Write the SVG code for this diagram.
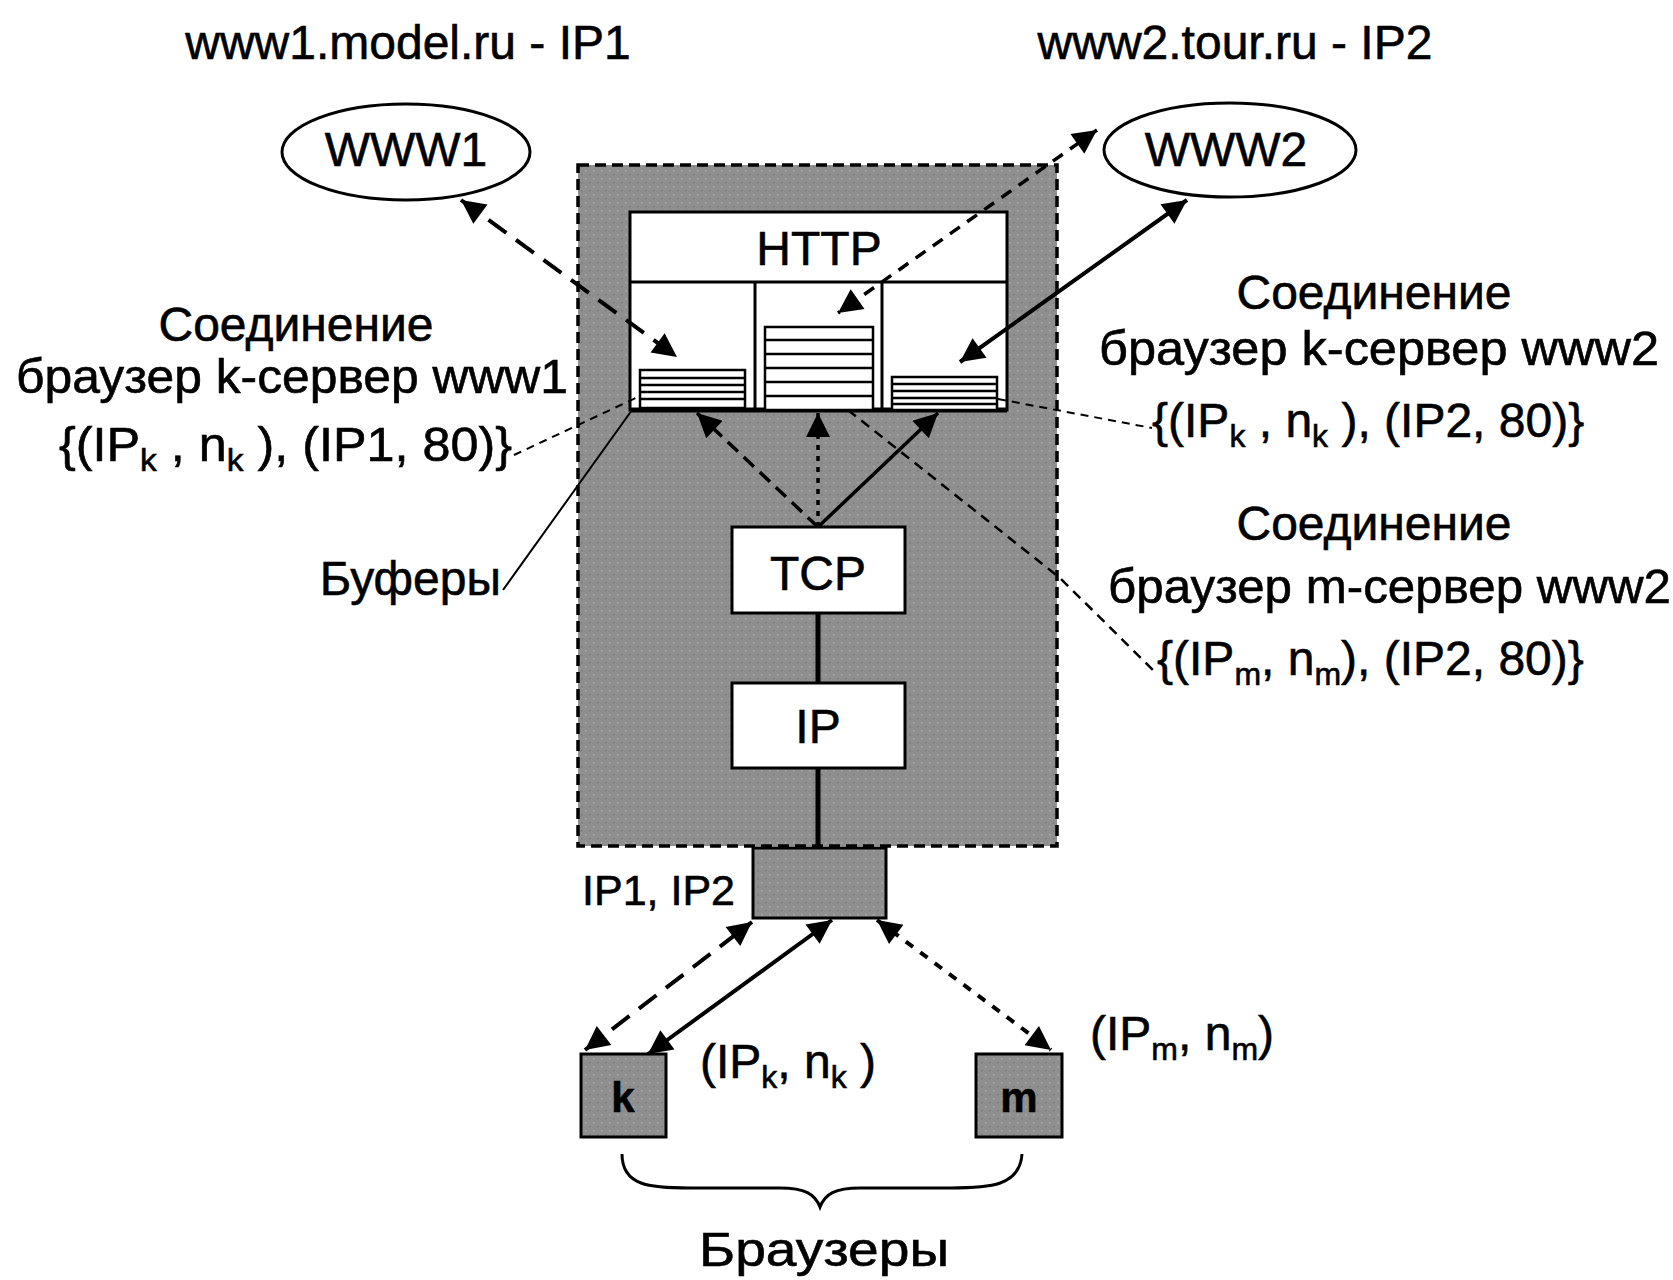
<svg xmlns="http://www.w3.org/2000/svg" width="1673" height="1280" viewBox="0 0 1673 1280">
<defs>
<marker id="ah" viewBox="0 0 10 10" refX="10" refY="5" markerWidth="34" markerHeight="24" markerUnits="userSpaceOnUse" orient="auto-start-reverse">
<path d="M0,0 L10,5 L0,10 z" fill="#000"/>
</marker>
<pattern id="tex" width="8" height="8" patternUnits="userSpaceOnUse">
<rect width="8" height="8" fill="#8f8f8f"/>
<rect x="1" y="2" width="1.5" height="1.5" fill="#ababab"/>
<rect x="5" y="6" width="1.5" height="1.5" fill="#7a7a7a"/>
</pattern>
</defs>
<style>
text{font-family:"Liberation Sans",Arial,sans-serif;fill:#000;font-size:48px;stroke:#000;stroke-width:0.6}
.mid{text-anchor:middle}
.end{text-anchor:end}
.sub{font-size:32px}
.sm{font-size:43px}
.bold{font-size:42px;font-weight:bold}
.box{fill:#fff;stroke:#000;stroke-width:3}
.gbox{fill:url(#tex);stroke:#000;stroke-width:3}
.ln{fill:none;stroke:#000}
.buf{fill:#fff;stroke:#000;stroke-width:2.5}
</style>
<rect width="1673" height="1280" fill="#fff"/>

<g id="titles">
<text x="408" y="59" class="mid">www1.model.ru - IP1</text>
<text x="1235" y="59" class="mid">www2.tour.ru - IP2</text>
</g>

<g id="www1">
<ellipse cx="406" cy="152" rx="124" ry="48" fill="#fff" stroke="#000" stroke-width="3"/>
<text x="406" y="166" class="mid">WWW1</text>
</g>
<g id="www2">
<ellipse cx="1230" cy="150" rx="126" ry="47" fill="#fff" stroke="#000" stroke-width="3"/>
<text x="1226" y="166" class="mid">WWW2</text>
</g>

<g id="server">
<rect x="578" y="165" width="479" height="681" fill="url(#tex)" stroke="#000" stroke-width="3.5" stroke-dasharray="11 6"/>
</g>

<g id="http">
<rect x="630" y="212" width="377" height="198" class="box"/>
<line x1="630" y1="282" x2="1007" y2="282" class="ln" stroke-width="3"/>
<line x1="755" y1="282" x2="755" y2="410" class="ln" stroke-width="3"/>
<line x1="882" y1="282" x2="882" y2="410" class="ln" stroke-width="3"/>
<line x1="630" y1="410" x2="1007" y2="410" class="ln" stroke-width="5"/>
<text x="819" y="265" class="mid">HTTP</text>
</g>

<g id="buffers">
<rect x="640" y="370" width="105" height="38" class="buf"/>
<path d="M640,378H745M640,385H745M640,392H745M640,399H745" class="ln" stroke-width="2.5"/>
<rect x="765" y="327" width="108" height="83" class="buf"/>
<path d="M765,340H873M765,354H873M765,368H873M765,382H873M765,396H873" class="ln" stroke-width="2.5"/>
<rect x="892" y="377" width="105" height="33" class="buf"/>
<path d="M892,384H997M892,391H997M892,398H997M892,404H997" class="ln" stroke-width="2.5"/>
</g>

<g id="tcp">
<rect x="732" y="527" width="173" height="86" class="box"/>
<text x="818" y="590" class="mid">TCP</text>
</g>
<g id="ip">
<rect x="732" y="683" width="173" height="85" class="box"/>
<text x="818" y="743" class="mid">IP</text>
</g>

<g id="nic">
<rect x="753" y="848" width="133" height="70" class="gbox"/>
</g>

<g id="browser-k">
<rect x="581" y="1054" width="85" height="83" class="gbox"/>
<text x="623" y="1112" class="mid bold">k</text>
</g>
<g id="browser-m">
<rect x="976" y="1054" width="86" height="83" class="gbox"/>
<text x="1019" y="1112" class="mid bold">m</text>
</g>

<g id="connectors">
<line x1="461" y1="200" x2="677" y2="357" class="ln" stroke-width="4" stroke-dasharray="22 12" marker-start="url(#ah)" marker-end="url(#ah)"/>
<line x1="1097" y1="130" x2="838" y2="313" class="ln" stroke-width="3.5" stroke-dasharray="12 9" marker-start="url(#ah)" marker-end="url(#ah)"/>
<line x1="1187" y1="200" x2="960" y2="362" class="ln" stroke-width="4" marker-start="url(#ah)" marker-end="url(#ah)"/>
<line x1="818" y1="527" x2="697" y2="413" class="ln" stroke-width="3.5" stroke-dasharray="14 8" marker-end="url(#ah)"/>
<line x1="818" y1="527" x2="818" y2="413" class="ln" stroke-width="3.5" stroke-dasharray="5 6" marker-end="url(#ah)"/>
<line x1="818" y1="527" x2="938" y2="413" class="ln" stroke-width="3.5" marker-end="url(#ah)"/>
<line x1="818" y1="613" x2="818" y2="683" class="ln" stroke-width="5"/>
<line x1="818" y1="768" x2="818" y2="848" class="ln" stroke-width="5"/>
<line x1="585" y1="1050" x2="752" y2="922" class="ln" stroke-width="4" stroke-dasharray="22 12" marker-start="url(#ah)" marker-end="url(#ah)"/>
<line x1="648" y1="1054" x2="832" y2="920" class="ln" stroke-width="4" marker-start="url(#ah)" marker-end="url(#ah)"/>
<line x1="877" y1="920" x2="1051" y2="1050" class="ln" stroke-width="4" stroke-dasharray="9 9" marker-start="url(#ah)" marker-end="url(#ah)"/>
<line x1="514" y1="455" x2="640" y2="396" class="ln" stroke-width="2" stroke-dasharray="8 6"/>
<line x1="503" y1="590" x2="632" y2="410" class="ln" stroke-width="2"/>
<line x1="998" y1="399" x2="1152" y2="428" class="ln" stroke-width="2" stroke-dasharray="8 6"/>
<polyline points="848,410 1060,578 1155,672" class="ln" stroke-width="2.5" stroke-dasharray="10 7"/>
<path d="M622,1154 C622,1186 650,1188 690,1188 L780,1188 C805,1188 815,1194 820,1207 C825,1194 835,1188 860,1188 L950,1188 C990,1188 1020,1186 1022,1154" class="ln" stroke-width="3"/>
</g>

<g id="labels">
<text x="296" y="341" class="mid">Соединение</text>
<text x="16" y="393" textLength="552" lengthAdjust="spacingAndGlyphs">браузер k-сервер www1</text>
<text x="59" y="461" textLength="453" lengthAdjust="spacingAndGlyphs">{(IP<tspan class="sub" dy="10">k</tspan><tspan dy="-10"> , n</tspan><tspan class="sub" dy="10">k</tspan><tspan dy="-10"> ), (IP1, 80)}</tspan></text>
<text x="501" y="595" class="end">Буферы</text>
<text x="1374" y="309" class="mid">Соединение</text>
<text x="1099" y="365" textLength="560" lengthAdjust="spacingAndGlyphs">браузер k-сервер www2</text>
<text x="1152" y="437">{(IP<tspan class="sub" dy="10">k</tspan><tspan dy="-10"> , n</tspan><tspan class="sub" dy="10">k</tspan><tspan dy="-10"> ), (IP2, 80)}</tspan></text>
<text x="1374" y="540" class="mid">Соединение</text>
<text x="1108" y="603" textLength="563" lengthAdjust="spacingAndGlyphs">браузер m-сервер www2</text>
<text x="1157" y="675">{(IP<tspan class="sub" dy="10">m</tspan><tspan dy="-10">, n</tspan><tspan class="sub" dy="10">m</tspan><tspan dy="-10">), (IP2, 80)}</tspan></text>
<text x="735" y="905" class="end sm">IP1, IP2</text>
<text x="700" y="1078">(IP<tspan class="sub" dy="10">k</tspan><tspan dy="-10">, n</tspan><tspan class="sub" dy="10">k</tspan><tspan dy="-10"> )</tspan></text>
<text x="1090" y="1050">(IP<tspan class="sub" dy="10">m</tspan><tspan dy="-10">, n</tspan><tspan class="sub" dy="10">m</tspan><tspan dy="-10">)</tspan></text>
<text x="824" y="1266" class="mid" textLength="250" lengthAdjust="spacingAndGlyphs">Браузеры</text>
</g>
</svg>
